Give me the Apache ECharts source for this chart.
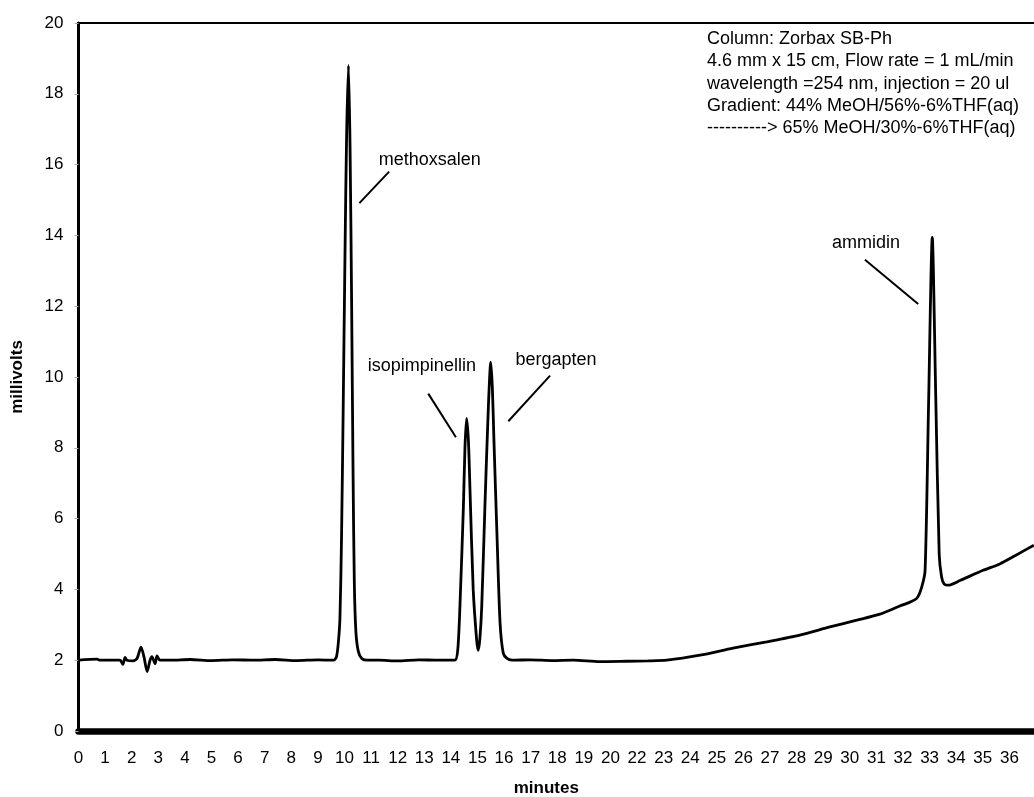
<!DOCTYPE html>
<html>
<head>
<meta charset="utf-8">
<script src="https://cdn.jsdelivr.net/npm/echarts@6/dist/echarts.min.js"></script>
<style>
  html, body { margin: 0; padding: 0; background: #fff; }
  #chart { width: 1034px; height: 797px; }
</style>
</head>
<body>
<div id="chart"></div>
<script>
// x tick labels as printed under the axis (evenly spaced, "21" absent in the original)
const xTickLabels = ['0','1','2','3','4','5','6','7','8','9','10','11','12','13','14','15','16','17','18','19','20',
                     '22','23','24','25','26','27','28','29','30','31','32','33','34','35','36'];
const yMin = 0, yMax = 20, yStep = 2;

// trace position along the printed axis (tick-label index units) and signal in millivolts
const tracePos = [
  0.00, 0.70, 0.81, 1.20, 1.56, 1.67, 1.75, 1.82, 2.05, 2.20, 2.35, 2.46, 2.58, 2.69, 2.76, 2.88, 2.95, 3.06,
  3.50, 4.20, 5.00, 5.80, 6.60, 7.40, 8.20, 9.00, 9.60,
  9.70, 9.77, 9.83, 9.89, 9.95, 10.02, 10.08, 10.15, 10.21, 10.27, 10.32, 10.37, 10.43, 10.52, 10.65, 10.85,
  11.30, 12.00, 12.80, 13.50, 14.15,
  14.26, 14.34, 14.47, 14.53, 14.59, 14.66, 14.72, 14.84, 14.97, 15.03, 15.09, 15.16, 15.28, 15.41, 15.50,
  15.56, 15.62, 15.74, 15.85, 15.97, 16.11, 16.30,
  17.00, 17.80, 18.60, 19.60, 20.60, 21.40, 22.12,
  23.37, 24.61, 25.88, 27.12, 28.25, 29.26, 30.13, 30.88, 31.26, 31.52,
  31.70, 31.83, 31.96, 32.10, 32.23, 32.36, 32.45, 32.55, 32.71,
  33.14, 34.01, 34.64, 35.21, 35.92
];
const signal = [
  2.00, 2.03, 2.00, 2.00, 2.00, 1.88, 2.08, 2.00, 1.98, 2.05, 2.37, 2.10, 1.68, 2.00, 2.10, 1.90, 2.12, 2.00,
  2.00, 2.02, 1.99, 2.01, 2.00, 2.02, 1.99, 2.01, 2.00,
  2.10, 2.50, 3.20, 5.50, 9.00, 13.50, 16.80, 18.80, 16.50, 12.00, 7.50, 4.20, 2.80, 2.25, 2.05, 2.00,
  2.00, 1.98, 2.01, 2.00, 2.00,
  2.30, 3.50, 6.30, 8.00, 8.83, 8.20, 6.80, 4.00, 2.57, 2.28, 2.60, 3.50, 6.33, 9.15, 10.42,
  9.70, 8.20, 5.40, 3.05, 2.20, 2.05, 2.00,
  2.01, 1.99, 2.00, 1.96, 1.97, 1.98, 2.00,
  2.14, 2.34, 2.52, 2.71, 2.94, 3.13, 3.30, 3.53, 3.64, 3.75,
  4.06, 4.54, 9.20, 13.94, 9.48, 5.00, 4.35, 4.15, 4.12,
  4.25, 4.54, 4.72, 4.95, 5.25
];

// peak names, label anchor and leader line ends (axis units)
const peakNames = ['methoxsalen', 'isopimpinellin', 'bergapten', 'ammidin'];
const labelAt   = [[13.21, 16.14], [12.91, 10.30], [17.95, 10.47], [29.61, 13.79]];
const leaderFrom = [[11.68, 15.80], [13.15, 9.53], [17.73, 10.04], [29.57, 13.31]];
const leaderTo   = [[10.56, 14.91], [14.19, 8.30], [16.16, 8.75], [31.57, 12.06]];

const infoLines = [
  'Column: Zorbax SB-Ph',
  '4.6 mm x 15 cm, Flow rate = 1 mL/min',
  'wavelength =254 nm, injection = 20 ul',
  'Gradient: 44% MeOH/56%-6%THF(aq)',
  '----------> 65% MeOH/30%-6%THF(aq)'
];

const FONT = "'Liberation Sans', Arial, Helvetica, sans-serif";
const chart = echarts.init(document.getElementById('chart'), null, { renderer: 'canvas' });

chart.setOption({
  animation: false,
  backgroundColor: '#fff',
  grid: { left: 78.5, right: -2, top: 23, bottom: 66, outerBoundsMode: 'none', containLabel: false,
          show: true, borderColor: '#000', borderWidth: 2, backgroundColor: 'transparent' },
  xAxis: {
    type: 'value', min: 0, max: 36, interval: 1, offset: 3.5,
    name: 'minutes', nameLocation: 'middle', nameGap: 45,
    nameTextStyle: { fontFamily: FONT, fontSize: 17, fontWeight: 'bold', color: '#000', padding: [0, 22, 0, 0] },
    axisLine: { show: true, lineStyle: { color: '#000', width: 6.5 } },
    axisTick: { show: false },
    splitLine: { show: false },
    axisLabel: {
      margin: 15, fontFamily: FONT, fontSize: 17, color: '#000', showMaxLabel: false,
      formatter: v => (xTickLabels[v] !== undefined ? xTickLabels[v] : '')
    }
  },
  yAxis: {
    type: 'value', min: yMin, max: yMax, interval: yStep,
    name: 'millivolts', nameLocation: 'middle', nameGap: 53,
    nameTextStyle: { fontFamily: FONT, fontSize: 17, fontWeight: 'bold', color: '#000' },
    axisLine: { show: true, lineStyle: { color: '#000', width: 3 } },
    axisTick: { show: true, length: 4, lineStyle: { color: '#aaa', width: 1 } },
    splitLine: { show: false },
    axisLabel: { margin: 15, fontFamily: FONT, fontSize: 17, color: '#000' }
  },
  series: [{
    type: 'line',
    data: tracePos.map((x, i) => [x, signal[i]]),
    showSymbol: false,
    smooth: 0.25,
    lineStyle: { color: '#000', width: 2.8 },
    markLine: {
      silent: true, symbol: ['none', 'none'],
      label: { show: false },
      lineStyle: { color: '#000', width: 2, type: 'solid' },
      data: leaderFrom.map((p, i) => [{ coord: p }, { coord: leaderTo[i] }])
    },
    markPoint: {
      silent: true, symbol: 'rect', symbolSize: 0,
      label: { show: true, position: 'inside', fontFamily: FONT, fontSize: 18, color: '#000', formatter: p => p.name },
      data: peakNames.map((n, i) => ({ name: n, coord: labelAt[i] }))
    }
  }],
  graphic: [{
    type: 'text', left: 707, top: 28,
    style: { text: infoLines.join('\n'), font: '18px ' + FONT, lineHeight: 22.3, fill: '#000' }
  }]
});
</script>
</body>
</html>
